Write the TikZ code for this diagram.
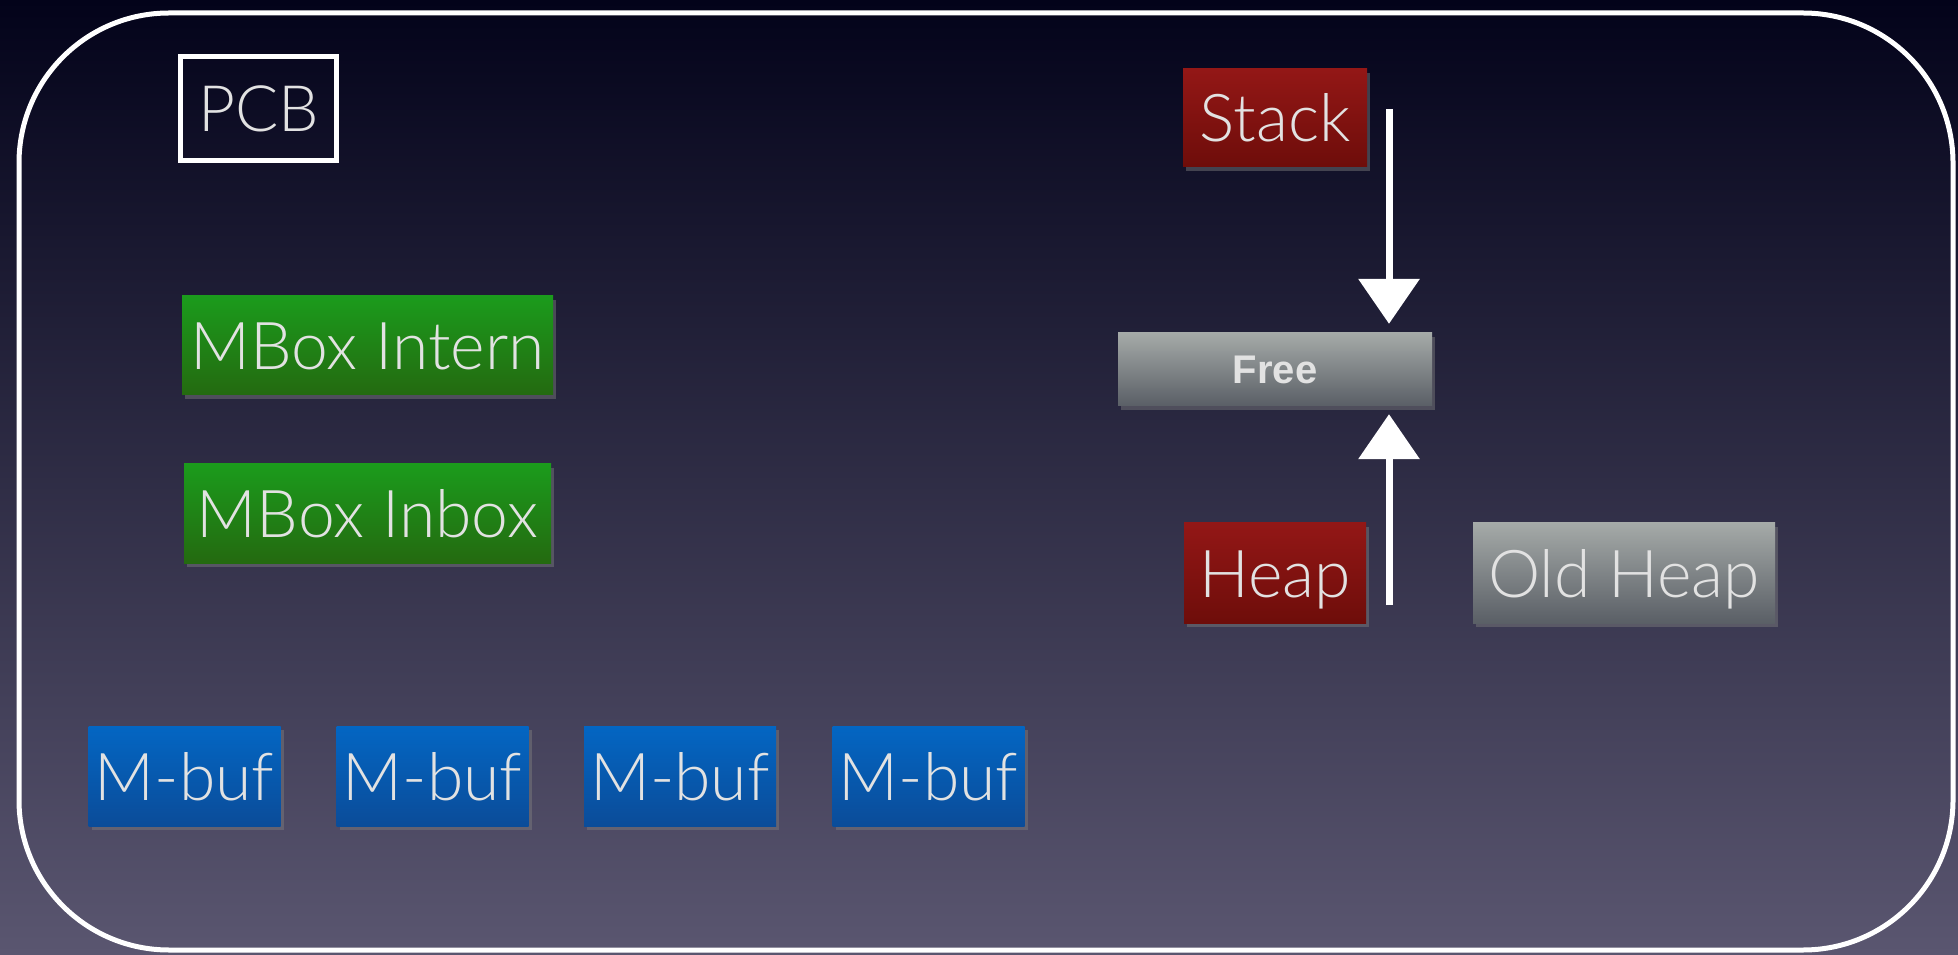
\documentclass[tikz,border=0pt]{standalone}
\usepackage{fontspec}
\setmainfont{Lato Light}
\newfontfamily\freefont{Liberation Sans}
\usetikzlibrary{arrows.meta,shadows}
\definecolor{bgtop}{HTML}{03031A}
\definecolor{bgbot}{HTML}{5A5670}
\definecolor{txt}{HTML}{E2E2E2}
\definecolor{gtop}{HTML}{1B9B1C}
\definecolor{gbot}{HTML}{246A10}
\definecolor{rtop}{HTML}{931716}
\definecolor{rbot}{HTML}{6E0D0A}
\definecolor{btop}{HTML}{0366C3}
\definecolor{bbot}{HTML}{0B4C99}
\definecolor{ytop}{HTML}{A5AAA8}
\definecolor{ybot}{HTML}{5A5F66}
\tikzset{
  box/.style={inner sep=0pt, minimum height=99pt, text=txt,
    font=\fontsize{66}{66}\selectfont, text height=48pt, text depth=0pt,
    drop shadow={opacity=0.45, shadow xshift=3pt, shadow yshift=-4pt}},
  greenbox/.style={box, top color=gtop, bottom color=gbot},
  redbox/.style={box, top color=rtop, bottom color=rbot},
  bluebox/.style={box, top color=btop, bottom color=bbot, minimum width=192pt, minimum height=100pt},
  greybox/.style={box, top color=ytop, bottom color=ybot},
  chalk/.style={draw=white, line width=7pt, -{Triangle[width=60pt,length=45pt]}},
}
\begin{document}
\begin{tikzpicture}[x=1pt,y=1pt]
\useasboundingbox (0,0) rectangle (1958,954);
\fill[top color=bgtop, bottom color=bgbot] (0,0) rectangle (1958,954);
\draw[white, line width=5pt, rounded corners=150pt] (19,4) rectangle (1953,941);

\node[inner sep=0pt, draw=white, line width=5pt, minimum width=156pt, minimum height=104pt,
  text=txt, font=\fontsize{64}{64}\selectfont, text height=47pt, text depth=0pt] (pcb) at (258.5,845.5) {PCB};

\node[greenbox, minimum width=371pt] (intern) at (367.5,608.5) {MBox Intern};
\node[greenbox, minimum width=367pt] (inbox) at (367.5,440.5) {MBox Inbox};

\node[bluebox] (m1) at (184.5,178) {M-buf};
\node[bluebox] (m2) at (432.5,178) {M-buf};
\node[bluebox] (m3) at (680,178) {M-buf};
\node[bluebox] (m4) at (928.5,178) {M-buf};

\node[redbox, minimum width=184pt, minimum height=98pt] (stack) at (1275,836) {Stack};
\node[greybox, minimum width=314pt, minimum height=73pt, font=\freefont\bfseries\fontsize{40}{40}\selectfont, text height=29pt] (free) at (1275,584.5) {Free};
\node[redbox, minimum width=182pt, minimum height=100pt] (heap) at (1275,381) {Heap};
\node[greybox, minimum width=302pt, minimum height=100pt] (oldheap) at (1624,381) {Old Heap};

\coordinate (sarrow) at (1389,845);
\coordinate (harrow) at (1389,349);
\draw[chalk, shorten >=9pt] (sarrow) -- (sarrow |- free.north);
\draw[chalk, shorten >=8pt] (harrow) -- (harrow |- free.south);
\end{tikzpicture}
\end{document}
